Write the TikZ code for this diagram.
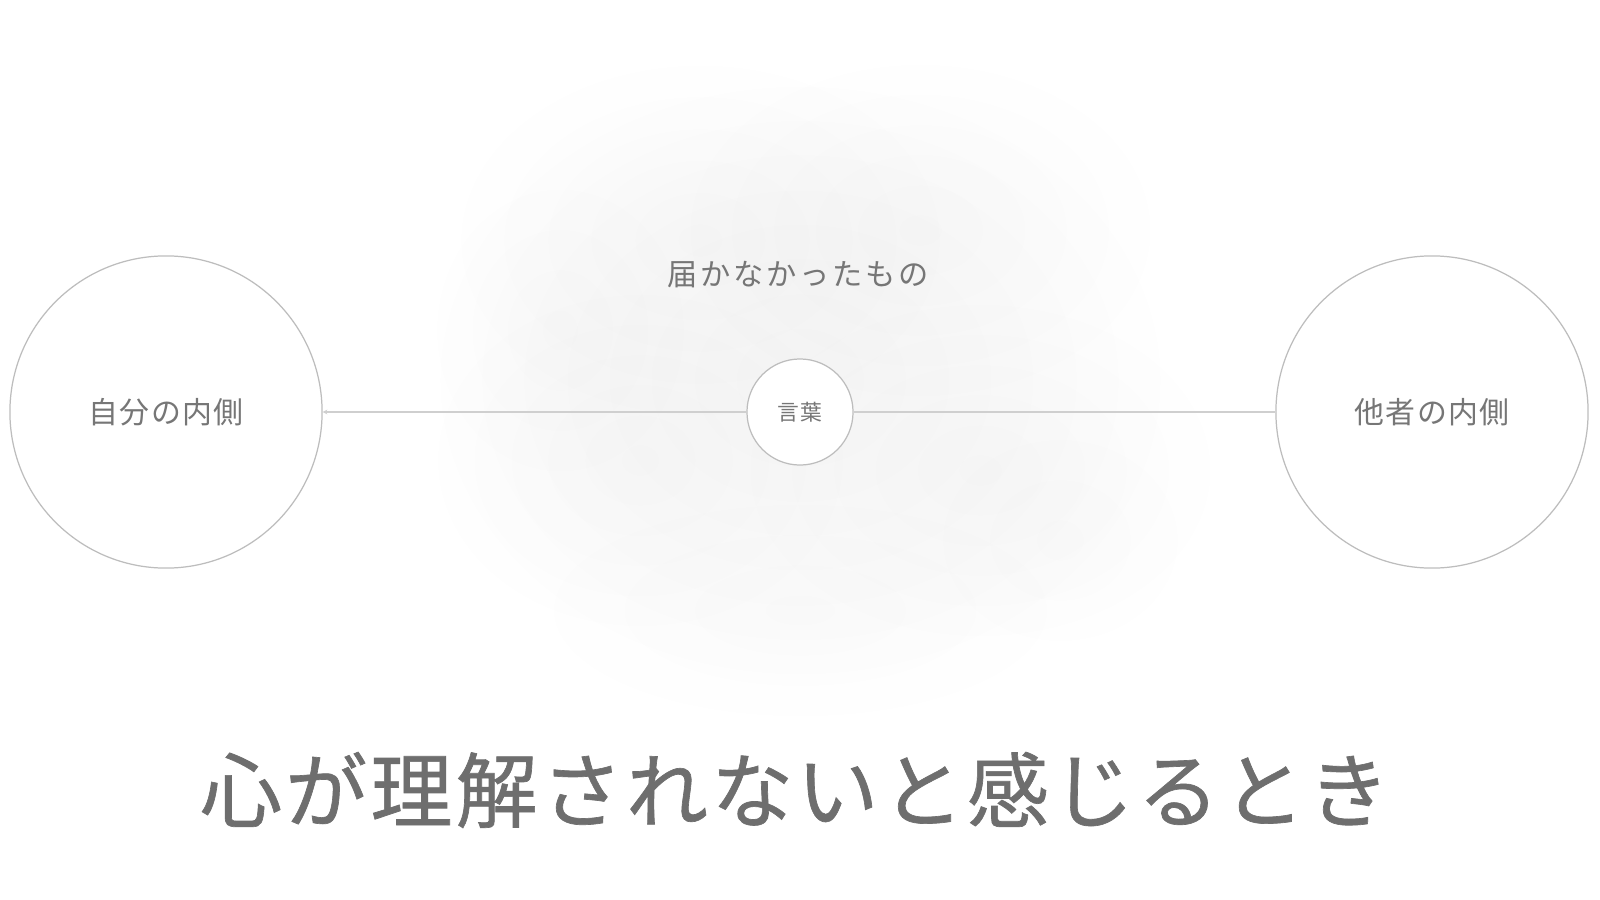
\documentclass[tikz,border=0pt]{standalone}
\usepackage{fontspec}
\setmainfont{Noto Sans CJK JP}
\newfontfamily\titlefont{Noto Sans CJK JP}[LetterSpace=4, FakeBold=0.8]
\newfontfamily\labfont{Noto Sans CJK JP}[LetterSpace=4]
\newfontfamily\mistfont{Noto Sans CJK JP}[LetterSpace=9]
\newfontfamily\wordfont{Noto Sans CJK JP}[LetterSpace=6]
\usepackage{tikz}
\usetikzlibrary{arrows.meta,fadings}
\definecolor{ink}{HTML}{6E6E6E}
\definecolor{soft}{HTML}{767676}
\definecolor{rim}{HTML}{BDBDBD}
\definecolor{wire}{HTML}{CFCFCF}
\tikzfading[name=haze, inner color=transparent!0, outer color=transparent!100]
\tikzset{
  orb/.style={circle, draw=rim, line width=0.35pt, inner sep=0pt, text=soft},
  side/.style={orb, minimum size=3.12cm, font=\labfont\fontsize{8.5pt}{10pt}\selectfont},
  word/.style={orb, fill=white, minimum size=1.06cm, font=\wordfont\fontsize{6.2pt}{8pt}\selectfont},
  link/.style={draw=wire, line width=0.45pt},
  mist/.style={fill=black, path fading=haze}
}

\begin{document}
\begin{tikzpicture}[x=0.01cm, y=-0.01cm]
  \useasboundingbox (0,0) rectangle (1600,900);
  \fill[white] (0,0) rectangle (1600,900);

  % soft haze behind the middle
  \fill[mist, fill opacity=0.035] (800,380) ellipse [x radius=3.8cm, y radius=3.1cm];
  \fill[mist, fill opacity=0.022] (700,240) ellipse [x radius=2.6cm, y radius=1.9cm];
  \fill[mist, fill opacity=0.022] (920,230) ellipse [x radius=2.5cm, y radius=1.8cm];
  \fill[mist, fill opacity=0.022] (640,460) ellipse [x radius=2.2cm, y radius=1.8cm];
  \fill[mist, fill opacity=0.022] (980,470) ellipse [x radius=2.5cm, y radius=1.8cm];
  \fill[mist, fill opacity=0.015] (800,610) ellipse [x radius=2.8cm, y radius=1.2cm];
  \fill[mist, fill opacity=0.015] (560,330) ellipse [x radius=1.4cm, y radius=1.6cm];
  \fill[mist, fill opacity=0.012] (1060,540) ellipse [x radius=1.4cm, y radius=1.2cm];

  \node[side] (self) at (166,412) {自分の内側};
  \node[side] (other) at (1432,412) {他者の内側};
  \node[word] (words) at (800,412) {言葉};

  \draw[link, -{Stealth[length=1.3pt, width=1.3pt]}] (words) -- (self);
  \draw[link] (words) -- (other);

  \node[text=soft, font=\mistfont\fontsize{8.6pt}{10pt}\selectfont] (lost) at (798,275) {届かなかったもの};
  \node[text=ink, font=\titlefont\fontsize{23.3pt}{28pt}\selectfont] (title) at (795,790) {心が理解されないと感じるとき};
\end{tikzpicture}
\end{document}
